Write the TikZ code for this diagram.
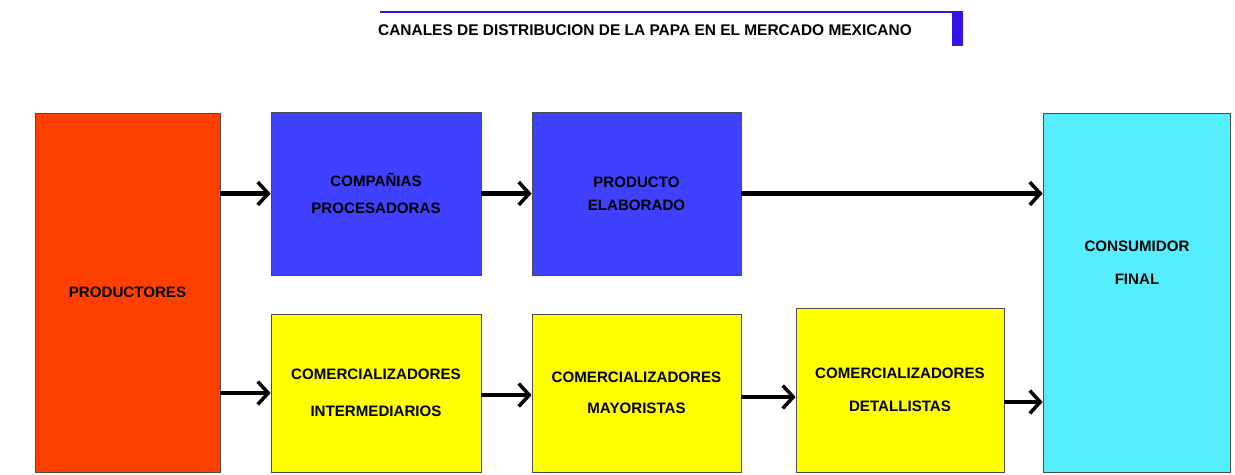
\documentclass[tikz,border=0pt]{standalone}
\usepackage{fontspec}
\setmainfont{Liberation Sans}
\usetikzlibrary{arrows.meta}
\definecolor{rojo}{RGB}{255,64,0}
\definecolor{azul}{RGB}{64,64,255}
\definecolor{amarillo}{RGB}{255,255,0}
\definecolor{celeste}{RGB}{85,238,255}
\definecolor{titulo}{RGB}{50,20,230}
\begin{document}
\begin{tikzpicture}[x=0.02cm,y=-0.02cm]

      \tikzset{caja/.style={draw=black!70, line width=0.4pt, inner sep=0pt, font=\bfseries\fontsize{8.6}{10}\selectfont, align=center},
               flecha/.style={line width=2.8pt, -{Straight Barb[length=6pt,width=13pt,line width=2pt]}}}
      \useasboundingbox (0,0) rectangle (1235,474);

% Titulo
      	\draw[titulo, line width=1.6pt] (380,12) -- (955,12);
      	\fill[titulo] (952,11) rectangle (963,46);
      	\node[font=\bfseries\fontsize{8.8}{10}\selectfont] (tit) at (645,30) {CANALES DE DISTRIBUCION DE LA PAPA EN EL MERCADO MEXICANO};

% Cajas
	%Extremos
      	\node[caja, fill=rojo, minimum width=3.7cm, minimum height=7.18cm] (prod) at (127.5,292.5) {PRODUCTORES};
      	\node[caja, fill=celeste, minimum width=3.74cm, minimum height=7.18cm] (cons) at (1136.5,292.5) {};
      	\node[caja, draw=none] (consT) at (1137,263) {CONSUMIDOR\\[9pt]FINAL};

	%Procesado
      	\node[caja, fill=azul, minimum width=4.2cm, minimum height=3.26cm] (comp) at (376,193.5) {COMPA\~NIAS\\[5pt]PROCESADORAS};
      	\node[caja, fill=azul, minimum width=4.18cm, minimum height=3.26cm] (elab) at (636.5,193.5) {PRODUCTO\\[3pt]ELABORADO};

	%Comercializado
      	\node[caja, fill=amarillo, minimum width=4.2cm, minimum height=3.16cm] (inter) at (376,393) {COMERCIALIZADORES\\[11pt]INTERMEDIARIOS};
      	\node[caja, fill=amarillo, minimum width=4.18cm, minimum height=3.16cm] (mayor) at (636.5,393) {COMERCIALIZADORES\\[7.5pt]MAYORISTAS};
      	\node[caja, fill=amarillo, minimum width=4.16cm, minimum height=3.28cm] (detal) at (900,390) {COMERCIALIZADORES\\[9pt]DETALLISTAS};
      	\coordinate (msal) at ([yshift=-0.08cm]mayor.east);
      	\coordinate (dsal) at ([yshift=-0.24cm]detal.east);

%Flechas
		\draw[flecha] (prod.east |- comp.west) -- (comp.west);
		\draw[flecha] (comp.east) -- (elab.west);
		\draw[flecha] (elab.east) -- (cons.west |- elab.east);
		\draw[flecha] (prod.east |- inter.west) -- (inter.west);
		\draw[flecha] ([yshift=-0.04cm]inter.east) -- ([yshift=-0.04cm]mayor.west);
		\draw[flecha] (msal) -- (detal.west |- msal);
		\draw[flecha] (dsal) -- (cons.west |- dsal);

	\end{tikzpicture}
\end{document}
